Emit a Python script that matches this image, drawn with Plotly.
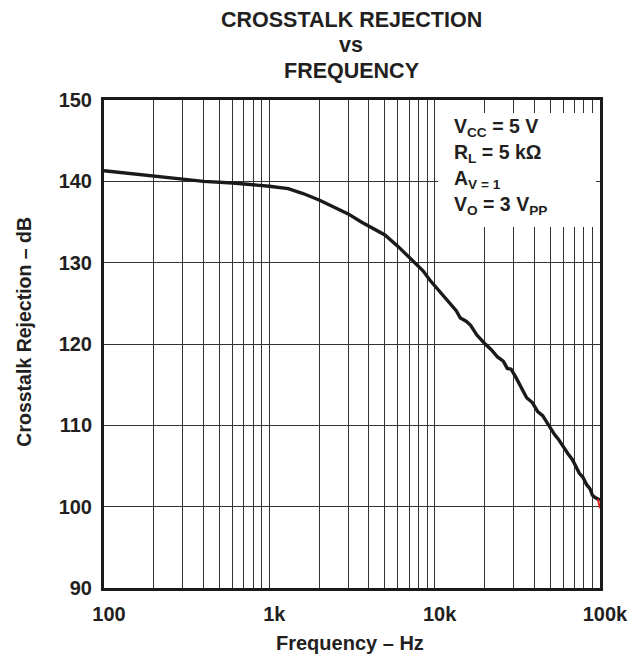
import plotly.graph_objects as go

# Data
freq_hz = [100, 150, 200, 300, 400, 600, 800, 1000, 1300, 1600, 2000, 2500, 3000,
           3600, 4200, 5000, 6000, 7200, 8500, 9400, 11000, 12400, 13500, 14300,
           15500, 16500, 18000, 20000, 22000, 24000, 26000, 27500, 29000, 31000,
           33000, 36000, 39000, 42000, 45000, 47000, 50000, 53000, 56000, 60000,
           64000, 68000, 72000, 75000, 79000, 83000, 87000, 90000, 94000, 97000, 100000]
rejection_db = [141.3, 140.9, 140.6, 140.3, 140.0, 139.8, 139.6, 139.4, 139.1, 138.5,
                137.7, 136.8, 136.0, 135.0, 134.3, 133.4, 132.0, 130.4, 129.0, 127.8,
                126.2, 125.0, 124.1, 123.2, 122.8, 122.3, 121.1, 120.1, 119.3, 118.4,
                117.9, 117.0, 116.9, 115.9, 114.9, 113.4, 112.8, 111.7, 111.2, 110.6,
                109.6, 108.9, 108.3, 107.3, 106.5, 105.8, 104.9, 104.1, 103.6, 102.7,
                102.2, 101.4, 101.1, 100.9, 100.8]
tail_hz = [97000, 100000]
tail_db = [100.9, 99.8]

x_tick_vals = [m * 10 ** e for e in (2, 3, 4) for m in range(1, 10)] + [100000]
x_tick_text = [{100: "100", 1000: "1k", 10000: "10k", 100000: "100k"}.get(v, "") for v in x_tick_vals]
y_tick_vals = [90, 100, 110, 120, 130, 140, 150]

title_lines = ["CROSSTALK REJECTION", "vs", "FREQUENCY"]
cond_lines = ["V<sub>CC</sub> = 5 V", "R<sub>L</sub> = 5 kΩ", "A<sub>V = 1</sub>", "V<sub>O</sub> = 3 V<sub>PP</sub>"]
x_title = "Frequency – Hz"
y_title = "Crosstalk Rejection – dB"

FONT = "Liberation Sans, Arial, sans-serif"
INK = "#231f20"

OFF = 8  # page body margin
W, H = 632, 650
# plot area in page pixels: x 104..604, y 100..588
L, T = 104 - OFF, 100 - OFF
pw, ph = 500, 488
R = W - L - pw
B = H - T - ph


def px(xpage):
    return (xpage - OFF - L) / pw


def py(ypage):
    return 1 - (ypage - OFF - T) / ph


fig = go.Figure()
fig.add_trace(go.Scatter(x=freq_hz, y=rejection_db, mode="lines",
                         line=dict(color="#1a1a1a", width=3.4), hoverinfo="skip"))
fig.add_trace(go.Scatter(x=tail_hz, y=tail_db, mode="lines",
                         line=dict(color="#e02020", width=2), hoverinfo="skip"))

for txt, yp in zip(title_lines, [20, 45, 71]):
    fig.add_annotation(text=txt, xref="paper", yref="paper", x=px(353), y=py(yp),
                       showarrow=False, xanchor="center", yanchor="middle",
                       font=dict(family=FONT, size=21.5, color=INK, weight="bold"))

fig.add_shape(type="rect", xref="paper", yref="paper", x0=px(441), x1=px(600),
              y0=py(227), y1=py(113), fillcolor="white", line=dict(width=0), layer="above")

for txt, yp in zip(cond_lines, [128, 153, 179, 205]):
    fig.add_annotation(text=txt, xref="paper", yref="paper", x=px(455), y=py(yp),
                       showarrow=False, xanchor="left", yanchor="middle",
                       font=dict(family=FONT, size=19.5, color=INK, weight="bold"))

fig.add_annotation(text=x_title, xref="paper", yref="paper", x=px(352), y=py(643),
                   showarrow=False, xanchor="center", yanchor="middle",
                   font=dict(family=FONT, size=20, color=INK, weight="bold"))
fig.add_annotation(text=y_title, xref="paper", yref="paper", x=px(23), y=py(332),
                   showarrow=False, xanchor="center", yanchor="middle", textangle=-90,
                   font=dict(family=FONT, size=19.5, color=INK, weight="bold"))

fig.update_layout(
    width=W, height=H,
    margin=dict(l=L, r=R, t=T, b=B),
    paper_bgcolor="white", plot_bgcolor="white",
    showlegend=False,
    font=dict(family=FONT, size=20, color=INK, weight="bold"),
    xaxis=dict(type="log", range=[2, 5], tickvals=x_tick_vals, ticktext=x_tick_text,
               showgrid=True, gridcolor="#333333", gridwidth=1, ticks="",
               showline=True, linecolor="#1a1a1a", linewidth=3, mirror=True,
               zeroline=False, ticklabelstandoff=6, ticklabelshift=5),
    yaxis=dict(range=[90, 150], tickvals=y_tick_vals, showgrid=True,
               gridcolor="#333333", gridwidth=1, ticks="",
               showline=True, linecolor="#1a1a1a", linewidth=3, mirror=True,
               zeroline=False, ticklabelstandoff=5),
)

fig.write_html("out.html")
